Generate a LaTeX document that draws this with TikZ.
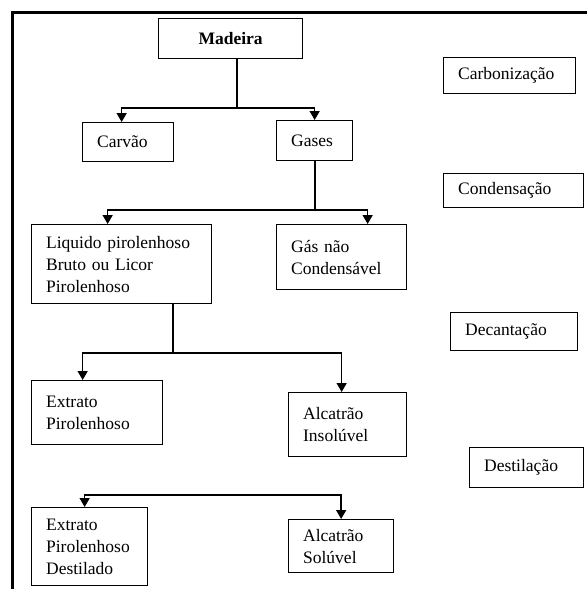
\documentclass[tikz,border=0pt]{standalone}
\usepackage{fontspec}
\setmainfont{Liberation Serif}
\usetikzlibrary{arrows.meta}
\begin{document}
\begin{tikzpicture}[x=1pt,y=-1pt,
  box/.style={draw, line width=1.3pt, inner xsep=14.5pt, inner ysep=0pt, align=left, anchor=north west,
    font=\fontsize{17.5}{22}\selectfont},
  link/.style={line width=1.5pt},
  arr/.style={line width=1.5pt, -{Triangle[width=10pt,length=9pt]}},
  frame/.style={line width=3pt}]
\useasboundingbox (0,0) rectangle (587,589);
% frame
\coordinate (fa) at (12,589);
\coordinate (fb) at (12,12);
\coordinate (fc) at (587,12);
\draw[frame] (fa) -- (fb) -- (fc);
% boxes
\node[box, align=center, text width=115pt, minimum height=40pt, font=\fontsize{17.5}{22}\selectfont\bfseries] (mad) at (158,18) {Madeira};
\node[box, text width=62pt, minimum height=39pt] (carv) at (82,122) {Carvão};
\node[box, text width=47pt, minimum height=40pt] (gas) at (276,120) {Gases};
\node[box, text width=103pt, minimum height=36pt] (carb) at (443,57) {Carbonização};
\node[box, text width=111pt, minimum height=34pt] (cond) at (443,173) {Condensação};
\node[box, text width=151pt, minimum height=79pt] (liq) at (31,224) {Liquido pirolenhoso\\Bruto ou Licor\\Pirolenhoso};
\node[box, text width=101pt, minimum height=65pt] (gnc) at (276,224) {Gás não\\Condensável};
\node[box, text width=98pt, minimum height=38pt] (dec) at (450,312) {Decantação};
\node[box, text width=102pt, minimum height=64pt] (ext) at (31,380) {Extrato\\Pirolenhoso};
\node[box, text width=89pt, minimum height=64pt] (ains) at (288,392) {Alcatrão\\Insolúvel};
\node[box, text width=85pt, minimum height=40pt] (dest) at (469,447) {Destilação};
\node[box, text width=87pt, minimum height=78pt] (epd) at (31,507) {Extrato\\Pirolenhoso\\Destilado};
\node[box, text width=76pt, minimum height=53pt] (asol) at (288,519) {Alcatrão\\Solúvel};
% junctions
\coordinate (j1) at (237,108);
\coordinate (j2) at (315,210);
\coordinate (j3) at (173,353);
\coordinate (j4) at (200,495);
% connectors
\draw[link] (mad.south -| j1) -- (j1);
\draw[arr] (j1) -| ([xshift=-6.5pt]carv.north);
\draw[arr] (j1) -| (gas.north);
\draw[link] (gas.south -| j2) -- (j2);
\draw[arr] (j2) -| ([xshift=-14pt]liq.north);
\draw[arr] (j2) -| ([xshift=26pt]gnc.north);
\draw[link] (liq.south -| j3) -- (j3);
\draw[arr] (j3) -| ([xshift=-14.5pt]ext.north);
\draw[arr] (j3) -| ([xshift=-6pt]ains.north);
\draw[arr] (j4) -| ([xshift=-5pt]epd.north);
\draw[arr] (j4) -| (asol.north);
\end{tikzpicture}
\end{document}
